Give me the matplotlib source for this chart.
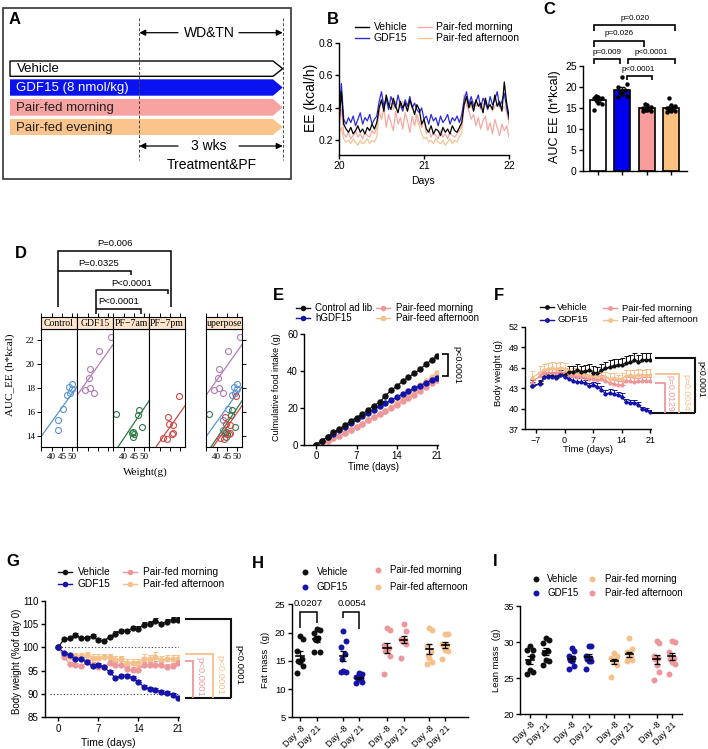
import numpy as np
import matplotlib
matplotlib.use("Agg")
import matplotlib.pyplot as plt
from matplotlib.patches import Polygon, Rectangle

plt.rcParams['font.family'] = ['Liberation Sans', 'DejaVu Sans']
SERIF = 'Liberation Serif'

# ======================= DATA =======================
# Panel A (schematic)
A_groups = ["Vehicle", "GDF15 (8 nmol/kg)", "Pair-fed morning", "Pair-fed evening"]

# Panel B: energy expenditure (kcal/h), day 20 -> 22
B_veh = [0.30,0.50,0.30,0.27,0.25,0.28,0.24,0.26,0.29,0.25,0.27,0.24,0.28,0.26,0.30,0.27,0.31,
         0.40,0.45,0.38,0.48,0.42,0.39,0.46,0.41,0.37,0.44,0.40,0.43,0.38,0.45,0.41,0.36,0.42,0.39,
         0.30,0.33,0.27,0.25,0.29,0.24,0.27,0.26,0.23,0.28,0.25,0.27,0.24,0.29,0.26,0.25,0.28,0.31,
         0.42,0.47,0.40,0.44,0.38,0.45,0.41,0.43,0.37,0.46,0.40,0.42,0.39,0.48,0.41,0.44,0.38,0.56,0.43,0.35]
B_gdf = [0.36,0.55,0.33,0.30,0.34,0.31,0.35,0.29,0.33,0.37,0.30,0.34,0.32,0.36,0.30,0.33,0.35,
         0.44,0.50,0.41,0.46,0.39,0.47,0.43,0.40,0.48,0.42,0.38,0.45,0.41,0.47,0.40,0.43,0.39,0.37,
         0.40,0.33,0.35,0.30,0.36,0.32,0.34,0.29,0.35,0.31,0.33,0.36,0.30,0.34,0.32,0.35,0.31,0.36,
         0.45,0.50,0.42,0.47,0.41,0.44,0.48,0.40,0.46,0.43,0.39,0.47,0.42,0.45,0.50,0.41,0.44,0.49,0.40,0.33]
B_pfm = [0.27,0.40,0.24,0.22,0.25,0.21,0.23,0.26,0.22,0.24,0.21,0.25,0.23,0.22,0.26,0.24,0.28,
         0.38,0.33,0.40,0.28,0.36,0.31,0.26,0.38,0.30,0.34,0.27,0.37,0.32,0.25,0.35,0.29,0.36,0.31,
         0.28,0.33,0.24,0.27,0.22,0.25,0.23,0.21,0.26,0.22,0.24,0.21,0.25,0.23,0.22,0.24,0.26,0.29,
         0.48,0.42,0.38,0.33,0.36,0.29,0.34,0.27,0.32,0.35,0.26,0.31,0.24,0.33,0.28,0.23,0.30,0.26,0.29,0.22]
B_pfa = [0.24,0.28,0.21,0.19,0.20,0.18,0.21,0.19,0.17,0.20,0.18,0.19,0.21,0.18,0.20,0.19,0.22,
         0.38,0.44,0.41,0.45,0.40,0.43,0.39,0.44,0.42,0.40,0.44,0.41,0.38,0.43,0.40,0.37,0.33,0.29,
         0.24,0.21,0.22,0.19,0.20,0.18,0.21,0.19,0.18,0.20,0.17,0.19,0.21,0.18,0.20,0.19,0.22,0.25,
         0.42,0.45,0.43,0.40,0.44,0.41,0.43,0.39,0.42,0.44,0.40,0.42,0.38,0.41,0.43,0.40,0.39,0.41,0.37,0.30]
B_days = [20, 21, 22]

# Panel C: AUC EE (h*kcal)
C_veh = [17.8,17.7,17.5,17.4,17.2,16.9,16.3,15.9,14.6]
C_gdf = [22.4,20.6,20.1,19.3,18.8,18.3,17.9,17.6]
C_pfm = [15.9,15.6,15.3,15.0,14.8,14.6,14.5,14.4,14.3]
C_pfa = [17.3,15.7,15.4,15.1,14.8,14.6,14.3,14.0,14.4]

# Panel D: AUC_EE vs weight (lattice)
D_panels = ["Control", "GDF15", "PF\u22127am", "PF\u22127pm"]
D_x = [[43.1,43.1,45.7,47.7,48.5,49.9,50.0,48.9],
       [51.2,45.7,41.4,40.5,38.9,41.4,42.9],
       [36.3,47.5,47.0,49.1,44.6,44.9,44.6,44.3],
       [49.6,43.9,44.4,46.7,45.8,46.6,41.6,43.5]]
D_y = [[14.5,15.3,16.2,17.4,18.1,18.3,17.9,17.6],
       [22.26,21.1,19.6,18.85,17.85,18.0,17.6],
       [15.8,16.15,15.7,14.7,14.3,14.1,13.9,14.2],
       [17.35,15.55,15.0,14.85,14.15,14.2,13.8,13.75]]
D_slope = [0.241, 0.244, 0.257, 0.246]
D_icpt = [5.49, 8.85, 3.46, 3.63]

# Panel E: cumulative food intake (g)
E_days = list(range(22))
E_ctrl = [0,2.3,4.5,6.8,8.7,10.8,13.0,14.9,16.8,19.0,21.3,23.2,26.7,29.6,32.0,34.6,36.8,38.9,41.0,43.8,46.0,48.2]
E_gdf = [0,2.3,4.4,6.2,8.0,9.8,11.8,13.9,15.6,17.4,19.2,20.9,22.6,24.3,26.0,27.6,29.1,30.7,32.2,33.7,35.1,36.5]
E_pfm = [0,1.0,2.2,3.6,5.0,6.6,8.2,9.9,11.6,13.3,15.0,16.7,18.4,20.1,21.8,23.6,25.4,27.3,29.3,31.3,33.4,35.5]
E_pfa = [0,1.0,2.2,3.6,5.0,6.6,8.2,9.9,11.6,13.3,15.0,16.7,18.5,20.5,22.7,25.0,27.5,30.0,32.4,34.6,36.8,39.0]

# Panel F: body weight (g)
F_days = [-8,-6,-5,-4,-3,-2,-1,0] + list(range(1, 22))
F_veh = [43.3,43.7,44.6,44.8,44.8,44.6,45.0,44.9, 45.4,45.4,45.6,45.4,45.5,45.6,45.3,45.2,45.6,45.9,46.1,46.3,46.4,46.4,46.7,46.8,47.1,46.9,47.1,47.2,47.2]
F_gdf = [43.3,43.6,44.6,44.7,44.7,44.5,44.9,44.7, 44.4,44.1,43.95,43.95,43.7,43.3,43.45,43.2,42.8,42.2,42.3,42.2,42.0,41.75,41.0,40.9,40.9,40.6,39.95,39.8,39.5]
F_pfm = [43.8,44.8,45.2,45.3,45.3,45.2,45.4,45.3, 45.0,44.8,44.6,44.7,44.5,44.3,44.3,44.2,44.3,44.0,43.8,43.6,43.5,43.5,44.0,44.0,43.9,44.0,44.0,44.1,44.1]
F_pfa = [44.5,45.3,45.6,45.8,45.9,45.8,46.0,45.8, 45.5,45.2,45.0,44.9,44.9,44.8,44.7,44.6,44.6,44.6,44.4,44.5,44.3,44.4,44.8,44.9,44.8,45.0,44.9,45.0,45.0]
F_veh_sem = [0.9,0.5,0.7,0.6,0.6,0.6,0.6,0.7,0.8,0.8,0.9,0.9,0.9,1.0,0.9,0.9,0.9,1.0,1.0,1.0,0.9,1.0,1.0,1.0,1.1,1.0,1.1,1.0,1.0]
F_gdf_sem = [0.6,0.4,0.5,0.5,0.5,0.4,0.4,0.4,0.5,0.5,0.6,0.5,0.5,0.5,0.4,0.5,0.5,0.5,0.6,0.5,0.5,0.5,0.5,0.4,0.4,0.4,0.3,0.3,0.3]
F_pfm_sem = [0.6,0.6,0.6,0.7,0.7,0.7,0.7,0.7,0.6,0.6,0.6,0.6,0.6,0.6,0.6,0.6,0.6,0.6,0.6,0.6,0.5,0.6,0.6,0.6,0.6,0.5,0.6,0.6,0.6]
F_pfa_sem = [1.0,1.0,0.9,0.9,0.9,0.9,0.9,0.9,0.8,0.8,0.8,0.8,0.8,0.8,0.8,0.8,0.8,0.8,0.8,0.8,0.7,0.8,0.8,0.8,0.8,0.8,0.8,0.8,0.8]

# Panel G: body weight (% of day 0)
G_days = list(range(22))
G_veh = [100,101.8,101.9,102.6,101.9,102.0,102.4,101.5,101.4,102.3,102.9,103.4,103.5,104.1,104.0,104.8,105.1,105.6,105.0,105.5,105.8,105.9]
G_gdf = [100,98.8,98.3,97.5,97.5,96.8,95.9,96.3,95.7,94.7,93.4,93.8,93.8,93.4,92.6,91.5,91.0,90.8,90.4,90.2,89.8,89.1]
G_pfm = [100,98.0,96.4,96.2,95.9,96.9,96.2,95.8,95.7,96.7,96.2,96.3,95.4,95.1,95.2,96.2,96.2,96.3,96.2,95.7,96.0,96.6]
G_pfa = [100,98.3,98.0,98.1,98.2,98.3,97.8,97.8,97.9,97.9,97.3,97.4,96.6,96.6,96.6,97.6,97.5,98.0,97.2,97.4,97.4,97.4]
G_veh_sem = [0,0.3,0.3,0.4,0.4,0.4,0.5,0.4,0.4,0.4,0.5,0.5,0.5,0.5,0.5,0.6,0.6,0.6,0.5,0.6,0.7,0.6]
G_gdf_sem = [0,0.3,0.3,0.4,0.4,0.4,0.4,0.4,0.4,0.4,0.4,0.4,0.4,0.4,0.5,0.5,0.5,0.5,0.5,0.5,0.5,0.5]
G_pfm_sem = [0,0.4,0.5,0.5,0.5,0.5,0.6,0.6,0.6,0.6,0.7,0.7,0.7,0.7,0.7,0.7,0.7,0.7,0.7,0.7,0.7,0.7]
G_pfa_sem = [0,0.4,0.5,0.6,0.6,0.6,0.7,0.7,0.7,0.7,0.8,0.8,0.8,0.8,0.8,0.9,0.9,0.9,0.9,0.9,0.9,0.9]

# Panel H: fat mass (g); order veh -8, veh 21, gdf -8, gdf 21, pfm -8, pfm 21, pfa -8, pfa 21
H_ticklabels = ["Day -8", "Day 21"] * 4
H_vals = [[19.4,18.8,16.8,15.3,15.0,14.8,14.0,12.9],
          [20.6,20.5,20.0,19.1,18.9,18.6,16.6,16.5],
          [20.2,18.5,17.4,16.2,15.3,13.2,13.0,13.1],
          [12.8,12.7,12.2,12.0,11.8,11.7,11.0,11.2],
          [20.8,20.5,17.8,17.3,16.8,16.7,15.8,12.7],
          [21.5,20.2,18.9,18.7,18.5,18.3,18.0,15.5],
          [20.8,20.5,17.7,16.5,16.0,15.5,14.8,14.4],
          [19.8,19.8,18.0,17.8,17.4,17.0,16.8,15.4]]

# Panel I: lean mass (g); order veh, gdf, pf morning (orange), pf afternoon (pink)
I_vals = [[29.4,28.9,28.9,28.0,27.2,26.1,25.9,25.6],
          [30.5,30.3,29.8,28.8,28.5,27.5,27.3,26.8],
          [29.1,28.7,28.0,27.8,27.5,27.4,26.7,26.2],
          [29.5,29.4,28.0,27.8,27.6,27.4,27.3,26.2],
          [28.5,28.0,27.8,27.5,27.4,27.3,26.8,25.2],
          [30.5,29.0,28.6,28.0,27.8,27.6,27.5,27.3],
          [30.1,29.9,28.0,27.8,27.6,26.8,25.9,24.7],
          [30.1,30.0,28.6,27.8,27.6,27.2,27.0,25.6]]

# ======================= FIGURE =======================
W, H = 708, 749
fig = plt.figure(figsize=(W / 100, H / 100), dpi=100)

def axpx(l, t, r, b, **kw):
    return fig.add_axes([l / W, 1 - b / H, (r - l) / W, (b - t) / H], **kw)

ov = fig.add_axes([0, 0, 1, 1], zorder=20)
ov.set_xlim(0, W); ov.set_ylim(H, 0); ov.axis('off')

def gp(ax, fs=7):
    ax.spines['top'].set_visible(False)
    ax.spines['right'].set_visible(False)
    ax.spines['left'].set_linewidth(1)
    ax.spines['bottom'].set_linewidth(1)
    ax.tick_params(direction='out', length=3, width=1, labelsize=fs, pad=1.5)
    ax.patch.set_alpha(0)

def letter(x, y, s):
    ov.text(x, y, s, fontsize=12, fontweight='bold', ha='center', va='center')

def poly(pts, color='k', lw=1.2):
    xs, ys = zip(*pts)
    ov.plot(xs, ys, color=color, lw=lw, solid_capstyle='butt', solid_joinstyle='miter')

def leg(mx, y, tx, color, label, line=True, marker=True, ms=4, fs=7, hw=7):
    if line:
        ov.plot([mx - hw, mx + hw], [y, y], color=color, lw=1)
    if marker:
        ov.plot([mx], [y], 'o', color=color, ms=ms, mec='none')
    ov.text(tx, y, label, fontsize=fs, ha='left', va='center')

# ---------------- Panel A ----------------
A_colors = ['white', '#0A12F2', '#F9A2A2', '#FBC48C']
A_txtc = ['black', 'white', '#222222', '#222222']
ov.add_patch(Rectangle((3.3, 8.3), 287.4, 170.7, fill=False, ec='#333333', lw=1.2))
letter(15, 20, 'A')
for x in (139.3, 282.7):
    ov.plot([x, x], [18, 160], color='#444444', lw=0.7, ls=(0, (3, 2)))
arr = dict(arrowstyle='-|>', color='k', lw=0.9, mutation_scale=9, shrinkA=0, shrinkB=0)
ov.annotate('', xy=(139.3, 32.7), xytext=(178, 32.7), arrowprops=arr)
ov.annotate('', xy=(282.7, 32.7), xytext=(239, 32.7), arrowprops=arr)
ov.text(209.7, 33, 'WD&TN', fontsize=10, ha='center', va='center')
tops = [61, 79.3, 99, 119]
bots = [76.3, 95.7, 115.7, 135]
for g, c, tc, t, b in zip(A_groups, A_colors, A_txtc, tops, bots):
    ov.add_patch(Polygon([(10, t), (273, t), (282.7, (t + b) / 2), (273, b), (10, b)],
                         closed=True, fc=c, ec='black' if c == 'white' else 'none', lw=1.0, zorder=1))
    ov.text(16.5, (t + b) / 2 + 0.5, g, fontsize=9.5, color=tc, ha='left', va='center', zorder=2)
ov.annotate('', xy=(139.3, 146), xytext=(178, 146), arrowprops=arr)
ov.annotate('', xy=(282.7, 146), xytext=(239, 146), arrowprops=arr)
ov.text(208.5, 146, '3 wks', fontsize=10, ha='center', va='center')
ov.text(211.7, 165, 'Treatment&PF', fontsize=10, ha='center', va='center')

# ---------------- Panel B ----------------
B_col = {'veh': '#000000', 'gdf': '#2B2BD9', 'pfm': '#F4A9A3', 'pfa': '#F7C394'}
axB = axpx(339, 43, 509, 155)
gp(axB, 7.5)
tB = np.linspace(B_days[0], B_days[-1], len(B_veh))
axB.plot(tB, B_pfa, color=B_col['pfa'], lw=0.9)
axB.plot(tB, B_pfm, color=B_col['pfm'], lw=0.9)
axB.plot(tB, B_gdf, color=B_col['gdf'], lw=0.9)
axB.plot(tB, B_veh, color=B_col['veh'], lw=0.9)
axB.set_xlim(20, 22); axB.set_ylim(0.11, 0.8)
axB.set_xticks(B_days); axB.set_xticklabels([str(d) for d in B_days])
axB.set_yticks([0.2, 0.4, 0.6, 0.8])
letter(333, 19, 'B')
ov.text(311, 98, 'EE (kcal/h)', fontsize=10, rotation=90, ha='center', va='center')
ov.text(423, 181, 'Days', fontsize=7.5, ha='center', va='center')
leg(361.5, 26.7, 374, B_col['veh'], 'Vehicle', marker=False, fs=7.5)
leg(361.5, 37.7, 374, B_col['gdf'], 'GDF15', marker=False, fs=7.5)
leg(424.7, 26.7, 435.7, B_col['pfm'], 'Pair-fed morning', marker=False, fs=7.5)
leg(424.7, 37.7, 435.7, B_col['pfa'], 'Pair-fed afternoon', marker=False, fs=7.5)

# ---------------- Panel C ----------------
axC = axpx(583, 66, 687, 171)
gp(axC, 7.5)
C_groups = [C_veh, C_gdf, C_pfm, C_pfa]
C_fc = ['white', '#0000F0', '#F89C9C', '#FBC180']
for i, (vals, fc) in enumerate(zip(C_groups, C_fc)):
    v = np.asarray(vals)
    m = v.mean(); s = v.std(ddof=1) / np.sqrt(len(v))
    axC.bar(i, m, width=0.66, color=fc, edgecolor='black', lw=1.2, zorder=1)
    axC.errorbar(i, m, yerr=s, color='k', capsize=2, lw=1, capthick=1, zorder=3)
    order = np.argsort(v)
    offs = np.zeros(len(v))
    offs[order] = np.tile([-0.17, 0.17, 0.0, -0.09, 0.09], len(v))[:len(v)]
    axC.plot(i + offs, v, 'o', color='black', ms=3.2, mec='none', zorder=4)
axC.set_xlim(-0.62, 3.65); axC.set_ylim(0, 25)
axC.set_xticks(range(4)); axC.set_xticklabels([''] * 4)
axC.set_yticks([0, 5, 10, 15, 20, 25])
letter(549, 10, 'C')
ov.text(555, 117, 'AUC EE (h*kcal)', fontsize=9, rotation=90, ha='center', va='center')
poly([(594, 64), (594, 59.3), (620, 59.3), (620, 64)])
ov.text(607.3, 52, 'p=0.009', fontsize=5.8, ha='center', va='center')
poly([(594, 46.7), (594, 41), (644, 41), (644, 46.7)])
ov.text(619, 33.3, 'p=0.026', fontsize=5.8, ha='center', va='center')
poly([(594, 30.7), (594, 25), (675, 25), (675, 30.7)])
ov.text(635, 18.3, 'p=0.020', fontsize=5.8, ha='center', va='center')
poly([(628.3, 64), (628.3, 59.3), (675, 59.3), (675, 64)])
ov.text(651, 52, 'p<0.0001', fontsize=5.8, ha='center', va='center')
poly([(626.7, 80), (626.7, 76), (652.3, 76), (652.3, 80)])
ov.text(638.3, 69.3, 'p<0.0001', fontsize=5.8, ha='center', va='center')

# ---------------- Panel D ----------------
D_col = ['#5A94CF', '#B57BB7', '#2F7A45', '#D04848']
D_left = [41, 77, 113, 149]
D_xlim = (34.9, 52.3); D_ylim = (13.04, 22.92)
D_xt = [35, 40, 45, 50]; D_yt = [14, 16, 18, 20, 22]

def lattice_axes(l, strip_text, show_xlab, show_left, show_right):
    ax = axpx(l, 329, l + 36, 447)
    ax.set_xlim(*D_xlim); ax.set_ylim(*D_ylim)
    for s in ax.spines.values():
        s.set_linewidth(0.8)
    ax.set_xticks(D_xt)
    ax.set_xticklabels(['', '40', '45', '50'] if show_xlab else [''] * 4)
    ax.set_yticks(D_yt)
    ax.tick_params(direction='out', length=3, width=0.7, labelsize=6.5, pad=1.5,
                   labelfontfamily=SERIF)
    ax.tick_params(axis='y', left=show_left, labelleft=show_left,
                   right=show_right, labelright=False)
    sax = axpx(l, 317, l + 36, 329)
    sax.set_facecolor('#FFE5CC')
    sax.set_xlim(*D_xlim)
    for s in sax.spines.values():
        s.set_linewidth(0.8)
    sax.set_xticks(D_xt); sax.set_yticks([])
    sax.tick_params(axis='x', top=True, bottom=False, labelbottom=False,
                    direction='out', length=3, width=0.7)
    sax.text(0.5 if strip_text != 'uperpose' else 0.02, 0.45, strip_text,
             transform=sax.transAxes, fontsize=7, family=SERIF,
             ha='center' if strip_text != 'uperpose' else 'left', va='center')
    return ax

for i in range(4):
    ax = lattice_axes(D_left[i], D_panels[i], i in (0, 2), i == 0, False)
    xs = np.array(D_xlim)
    ax.plot(xs, D_icpt[i] + D_slope[i] * xs, color=D_col[i], lw=0.9)
    ax.plot(D_x[i], D_y[i], 'o', mfc='none', mec=D_col[i], ms=4.3, mew=0.8)
axS = lattice_axes(206, 'uperpose', True, False, True)
for i in range(4):
    xs = np.array(D_xlim)
    axS.plot(xs, D_icpt[i] + D_slope[i] * xs, color=D_col[i], lw=0.9)
    axS.plot(D_x[i], D_y[i], 'o', mfc='none', mec=D_col[i], ms=4.3, mew=0.8)
letter(21, 254, 'D')
ov.text(10, 375, 'AUC_EE (h*kcal)', fontsize=8, family=SERIF, rotation=90, ha='center', va='center')
ov.text(145, 472, 'Weight(g)', fontsize=8, family=SERIF, ha='center', va='center')
poly([(58.3, 306.7), (58.3, 250.7), (170.7, 250.7), (170.7, 306.7)], lw=1.1)
ov.text(115, 243.3, 'P=0.006', fontsize=6.8, ha='center', va='center')
poly([(58.3, 271), (130.7, 271), (130.7, 275)], lw=1.1)
ov.text(99, 263.5, 'P=0.0325', fontsize=6.8, ha='center', va='center')
poly([(96, 314), (96, 290), (167.7, 290), (167.7, 294)], lw=1.1)
ov.text(131.7, 283.7, 'P<0.0001', fontsize=6.8, ha='center', va='center')
poly([(96, 309), (141.3, 309), (141.3, 314)], lw=1.1)
ov.text(118.3, 301.7, 'P<0.0001', fontsize=6.8, ha='center', va='center')

# Common colours for E-I
K = '#111111'; BL = '#1414A8'; PK = '#EE979B'; OR = '#F6C08A'

# ---------------- Panel E ----------------
axE = axpx(304.3, 334.3, 438.5, 445)
gp(axE, 7)
for ys, c in [(E_pfa, OR), (E_pfm, PK), (E_gdf, BL), (E_ctrl, K)]:
    axE.plot(E_days, ys, '-o', color=c, ms=4.6, lw=0.9, mec='none')
axE.set_xlim(-2.05, 21.2); axE.set_ylim(0, 60)
axE.set_xticks([0, 7, 14, 21]); axE.set_yticks([0, 20, 40, 60])
letter(278, 295, 'E')
ov.text(276.7, 387, 'Culmulative food intake (g)', fontsize=6.5, rotation=90, ha='center', va='center')
ov.text(373, 467.5, 'Time (days)', fontsize=7, ha='center', va='center')
leg(303.3, 307.7, 315, K, 'Control ad lib.')
leg(303.3, 318.3, 315, BL, 'hGDF15')
leg(383.3, 307.7, 395.7, PK, 'Pair-feed morning')
leg(383.3, 318.3, 395.7, OR, 'Pair-feed afternoon')
poly([(441.7, 354), (447.7, 354), (447.7, 375.7), (441.7, 375.7)])
ov.text(456.7, 365, 'p<0.0001', fontsize=6.5, rotation=270, ha='center', va='center')

# ---------------- Panel F ----------------
axF = axpx(525, 326.7, 651.3, 429.3)
gp(axF, 6.5)
for ys, e, c in [(F_pfa, F_pfa_sem, OR), (F_pfm, F_pfm_sem, PK), (F_veh, F_veh_sem, K), (F_gdf, F_gdf_sem, BL)]:
    axF.errorbar(F_days, ys, yerr=[np.zeros(len(e)), e], fmt='-o', color=c, ms=3, lw=0.9,
                 mec='none', capsize=1.8, elinewidth=0.7, capthick=0.7)
axF.set_xlim(-9.65, 21.2); axF.set_ylim(37, 52)
axF.set_xticks([-7, 0, 7, 14, 21]); axF.set_yticks([37, 40, 43, 46, 49, 52])
letter(499.3, 295, 'F')
ov.text(498.3, 373.3, 'Body weight (g)', fontsize=6.8, rotation=90, ha='center', va='center')
ov.text(588.3, 450, 'Time (days)', fontsize=6.8, ha='center', va='center')
leg(546.7, 307, 557.3, K, 'Vehicle', ms=3.5, fs=6.8)
leg(546.7, 320, 557.3, BL, 'GDF15', ms=3.5, fs=6.8)
leg(610, 308.3, 621.7, PK, 'Pair-fed morning', ms=3.5, fs=6.8)
leg(610, 320, 621.7, OR, 'Pair-fed afternoon', ms=3.5, fs=6.8)
poly([(651.7, 412.7), (695, 412.7)], color=K, lw=1.5)
poly([(655, 357.7), (695, 357.7), (695, 412.7)], color=K, lw=1.5)
poly([(655, 374.3), (679.3, 374.3), (679.3, 412.7)], color=OR, lw=1.3)
poly([(655, 382.7), (665, 382.7), (665, 412.7)], color=PK, lw=1.3)
ov.text(701, 379.3, 'p<0.0001', fontsize=6.3, rotation=270, ha='center', va='center')
ov.text(686, 392.7, 'p=0.0034', fontsize=6.3, rotation=270, ha='center', va='center', color=OR)
ov.text(669.5, 393, 'p=0.0129', fontsize=6.3, rotation=270, ha='center', va='center', color=PK)

# ---------------- Panel G ----------------
axG = axpx(45, 600.7, 179.2, 717.3)
gp(axG, 7)
axG.plot([0, 21.2], [100, 100], color='#333333', lw=0.8, ls=(0, (1, 2)))
axG.plot([-1.5, 21.2], [90, 90], color='#333333', lw=0.8, ls=(0, (1, 2)))
for ys, e, c in [(G_pfa, G_pfa_sem, OR), (G_pfm, G_pfm_sem, PK), (G_veh, G_veh_sem, K), (G_gdf, G_gdf_sem, BL)]:
    axG.errorbar(G_days, ys, yerr=[np.zeros(len(e)), e], fmt='-o', color=c, ms=4.5, lw=0.9,
                 mec='none', capsize=1.8, elinewidth=0.7, capthick=0.7)
axG.set_xlim(-2.33, 21.15); axG.set_ylim(85, 110)
axG.set_xticks([0, 7, 14, 21]); axG.set_yticks([85, 90, 95, 100, 105, 110])
letter(13.3, 561.7, 'G')
ov.text(16.7, 661.7, 'Body weight (%of day 0)', fontsize=7, rotation=90, ha='center', va='center')
ov.text(108, 743, 'Time (days)', fontsize=7.5, ha='center', va='center')
leg(65, 572.3, 77.7, K, 'Vehicle', fs=7.3)
leg(65, 584.3, 77.7, BL, 'GDF15', fs=7.3)
leg(130, 572.3, 143.3, PK, 'Pair-fed morning', fs=7.3)
leg(130, 584.3, 143.3, OR, 'Pair-fed afternoon', fs=7.3)
poly([(185, 698.3), (231, 698.3)], color=K, lw=1.5)
poly([(185, 619.3), (231, 619.3), (231, 698.3)], color=K, lw=1.5)
poly([(185, 654.3), (212.7, 654.3), (212.7, 698.3)], color=OR, lw=1.3)
poly([(185, 661), (192.7, 661), (192.7, 698.3)], color=PK, lw=1.3)
ov.text(238.5, 665, 'p<0.0001', fontsize=6.8, rotation=270, ha='center', va='center')
ov.text(220, 675, 'p<0.0001', fontsize=6.8, rotation=270, ha='center', va='center', color=OR)
ov.text(200, 676.7, 'p<0.0001', fontsize=6.8, rotation=270, ha='center', va='center', color=PK)

# ---------------- Panels H & I ----------------
def dotplot(ax, pos, groups, colors, ms=4.3):
    for p, vals, c in zip(pos, groups, colors):
        v = np.asarray(vals)
        n = len(v)
        order = np.argsort(v)
        offs = np.zeros(n)
        offs[order] = np.tile([-0.17, 0.17, 0.0, -0.1, 0.1], n)[:n]
        ax.plot(p + offs, v, 'o', color=c, ms=ms, mec='none', zorder=2)
        m = v.mean(); s = v.std(ddof=1) / np.sqrt(n)
        ax.errorbar(p, m, yerr=s, color='k', capsize=2, lw=0.9, capthick=0.9, zorder=3)
        ax.plot([p - 0.22, p + 0.22], [m, m], color='k', lw=1.2, zorder=3)

def rot_labels(ax, pos, labels):
    ax.set_xticks(pos)
    ax.set_xticklabels(labels, rotation=45, ha='right', rotation_mode='anchor', fontsize=6.5)

H_pos = [0, 1, 2.6, 3.55, 5.2, 6.2, 7.75, 8.7]
axH = axpx(291.7, 604.3, 468, 717.3)
gp(axH, 6.8)
dotplot(axH, H_pos, H_vals, [K, K, BL, BL, PK, PK, OR, OR])
axH.set_xlim(-0.5, 10.06); axH.set_ylim(5, 25)
axH.set_yticks([5, 10, 15, 20, 25])
rot_labels(axH, H_pos, H_ticklabels)
letter(258.3, 563.3, 'H')
ov.text(266, 660, 'Fat mass  (g)', fontsize=6.8, rotation=90, ha='center', va='center')
leg(305, 571.7, 316.7, K, 'Vehicle', line=False, ms=4.3, fs=7)
leg(305, 587.3, 316.7, BL, 'GDF15', line=False, ms=4.3, fs=7)
leg(378.3, 570, 390, PK, 'Pair-fed morning', line=False, ms=4.3, fs=7)
leg(378.3, 586.7, 390, OR, 'Pair-fed afternoon', line=False, ms=4.3, fs=7)
poly([(300, 628.3), (300, 611.7), (316.7, 611.7), (316.7, 622.7)], lw=1.1)
ov.text(308.3, 604, '0.0207', fontsize=6.8, ha='center', va='center')
poly([(343.3, 618.3), (343.3, 611.7), (359, 611.7), (359, 629.3)], lw=1.1)
ov.text(351.7, 604, '0.0054', fontsize=6.8, ha='center', va='center')

I_pos = [0, 1, 2.6, 3.65, 5.25, 6.2, 7.9, 8.85]
axI = axpx(520, 606, 682, 714)
gp(axI, 6.8)
dotplot(axI, I_pos, I_vals, [K, K, BL, BL, OR, OR, PK, PK])
axI.set_xlim(-0.625, 9.48); axI.set_ylim(20, 35)
axI.set_yticks([20, 25, 30, 35])
rot_labels(axI, I_pos, H_ticklabels)
letter(495, 561, 'I')
ov.text(496.7, 660, 'Lean mass  (g)', fontsize=6.8, rotation=90, ha='center', va='center')
leg(535.7, 579, 547.3, K, 'Vehicle', line=False, ms=4.3, fs=7)
leg(535.7, 593.3, 547.3, BL, 'GDF15', line=False, ms=4.3, fs=7)
leg(592.3, 579, 605, OR, 'Pair-fed morning', line=False, ms=4.3, fs=7)
leg(592.3, 593.3, 605, PK, 'Pair-fed afternoon', line=False, ms=4.3, fs=7)

fig.savefig('out.png', dpi=100)
